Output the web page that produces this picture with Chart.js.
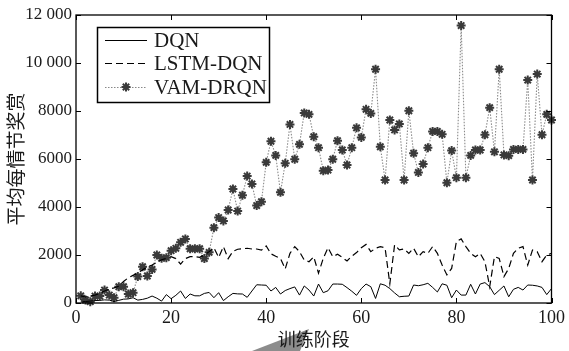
<!DOCTYPE html>
<html><head><meta charset="utf-8">
<script src="https://cdn.jsdelivr.net/npm/chart.js@4"></script>
<style>html,body{margin:0;padding:0;background:#fff}#wrap{width:569px;height:351px}</style>
</head><body><div id="wrap"><canvas id="c" width="569" height="351"></canvas></div>
<script>
const episodes = Array.from({length: 100}, (_, i) => i + 1);
const seriesNames = ['DQN', 'LSTM-DQN', 'VAM-DRQN'];
const dqn = [50,60,80,100,110,130,120,60,110,160, 170,220,120,150,200,290,200,80,350,180,
  320,500,190,375,300,300,400,440,220,430, 100,260,400,380,375,236,500,760,750,740,
  500,650,375,520,600,670,330,710,540,290, 790,430,510,790,790,780,640,490,320,600,
  790,680,190,800,740,600,420,260,280,290, 750,720,760,820,650,460,800,740,220,540,
  330,330,780,375,790,850,680,350,530,710, 260,570,650,540,750,740,710,650,350,600];
const lstmDqn = [300,250,300,330,400,500,580,630,700,900, 1050,1150,1250,1380,1500,1580,1700,1800,1860,1930,
  1850,1620,1850,1930,1930,1900,2000,2140,2300,1900, 2350,1850,2150,2240,2260,2280,2250,2250,2200,2380,
  2050,1950,1860,1420,2070,2350,2140,1790,1720,1930, 1240,1860,2300,1930,2030,1900,1750,1950,2100,2300,
  2440,2140,2280,2350,2300,800,2420,2210,2250,2070, 2280,1930,2140,2070,2350,2070,1580,1170,1440,2560,
  2670,2350,2070,1930,2070,1720,680,1930,1860,1100, 1440,2070,2280,2350,1580,2210,2140,1720,2000,2070];
const vamDrqn = [300,125,55,290,290,540,330,220,680,680, 375,430,1100,1510,1125,1400,2000,1860,1890,2180,
  2280,2530,2670,2260,2260,2260,1850,2110,3140,3560, 3420,3875,4750,3830,4490,5290,4960,4060,4220,5860,
  6740,6150,4610,5820,7440,5990,6610,7920,7860,6930, 6470,5510,5540,5990,6760,6375,5750,6470,7300,6900,
  8070,7900,9740,6510,5125,7625,7210,7460,5125,8010, 6240,5440,5790,6470,7150,7150,7030,5010,6350,5220,
  11560,5220,6150,6375,6375,7010,8140,6300,9740,6170, 6140,6400,6400,6400,9290,5125,9540,7010,7860,7625];
const xTicks = [0, 20, 40, 60, 80, 100];
const yTicks = [0, 2000, 4000, 6000, 8000, 10000, 12000];
const yTickLabels = ['0', '2000', '4000', '6000', '8000', '10 000', '12 000'];
const xTitle = '训练阶段';
const yTitle = '平均每情节奖赏';

const toXY = arr => arr.map((v, i) => ({x: episodes[i], y: v}));
const serif = '"Liberation Serif", "DejaVu Serif", serif';
const cjk = '"Noto Sans CJK SC", sans-serif';
const textColor = '#1a1a1a';

const framePlugin = {
  id: 'frame',
  afterDraw(chart) {
    const ctx = chart.ctx;
    const {left, right, top, bottom} = chart.chartArea;
    const xs = chart.scales.x, ys = chart.scales.y;
    ctx.save();
    ctx.strokeStyle = '#000';
    ctx.lineWidth = 1.3;
    ctx.strokeRect(left, top, right - left, bottom - top);
    ctx.lineWidth = 1;
    ctx.beginPath();
    xTicks.forEach(v => {
      const p = Math.round(xs.getPixelForValue(v)) + 0.5;
      ctx.moveTo(p, bottom); ctx.lineTo(p, bottom - 5);
      ctx.moveTo(p, top); ctx.lineTo(p, top + 5);
    });
    yTicks.forEach(v => {
      const p = Math.round(ys.getPixelForValue(v)) + 0.5;
      ctx.moveTo(left, p); ctx.lineTo(left + 5, p);
      ctx.moveTo(right, p); ctx.lineTo(right - 5, p);
    });
    ctx.stroke();

    // legend
    const bx = 97, by = 27, bw = 172, bh = 75;
    ctx.fillStyle = '#fff';
    ctx.fillRect(bx, by, bw, bh);
    ctx.lineWidth = 1.5;
    ctx.strokeStyle = '#000';
    ctx.strokeRect(bx + 0.5, by + 0.5, bw, bh);
    const rows = [40, 63, 87];
    const styles = [
      {color: '#000', dash: [], width: 1},
      {color: '#000', dash: [7, 4], width: 1.2},
      {color: '#888', dash: [1.5, 1.5], width: 1.2}
    ];
    rows.forEach((y, i) => {
      ctx.beginPath();
      ctx.setLineDash(styles[i].dash);
      ctx.strokeStyle = styles[i].color;
      ctx.lineWidth = styles[i].width;
      ctx.moveTo(105, y + 0.5); ctx.lineTo(147, y + 0.5);
      ctx.stroke();
      ctx.setLineDash([]);
      if (i === 2) {
        ctx.strokeStyle = '#3a3a3a';
        ctx.lineWidth = 2;
        ctx.beginPath();
        const cx = 126, r = 4.5;
        for (let a = 0; a < 4; a++) {
          const ang = a * Math.PI / 4;
          ctx.moveTo(cx - r * Math.cos(ang), y - r * Math.sin(ang));
          ctx.lineTo(cx + r * Math.cos(ang), y + r * Math.sin(ang));
        }
        ctx.stroke();
      }
      ctx.fillStyle = textColor;
      ctx.font = '21px ' + serif;
      ctx.textBaseline = 'middle';
      ctx.textAlign = 'left';
      ctx.fillText(seriesNames[i], 154, y + 1);
    });

    // scan artifact wedge below axis title
    ctx.fillStyle = 'rgba(120,120,120,0.85)';
    ctx.beginPath();
    ctx.moveTo(252, 351); ctx.lineTo(309, 329); ctx.lineTo(300, 351);
    ctx.closePath();
    ctx.globalCompositeOperation = 'destination-over';
    ctx.fill();
    ctx.restore();
  }
};

new Chart(document.getElementById('c'), {
  type: 'line',
  data: {
    datasets: [
      {label: seriesNames[0], data: toXY(dqn), borderColor: '#000', borderWidth: 1, pointRadius: 0, tension: 0},
      {label: seriesNames[1], data: toXY(lstmDqn), borderColor: '#000', borderWidth: 1.2, borderDash: [7, 4], pointRadius: 0, tension: 0},
      {label: seriesNames[2], data: toXY(vamDrqn), borderColor: '#8a8a8a', borderWidth: 1.1, borderDash: [1.5, 1.5],
        pointStyle: 'star', pointRadius: 4.5, pointBorderColor: '#3a3a3a', pointBorderWidth: 2, pointBackgroundColor: '#3a3a3a', tension: 0, clip: false}
    ]
  },
  options: {
    responsive: false,
    animation: false,
    devicePixelRatio: 1,
    layout: {padding: {left: 0, right: 17, top: 15, bottom: 0}},
    plugins: {legend: {display: false}, tooltip: {enabled: false}},
    scales: {
      x: {
        type: 'linear', min: 0, max: 100,
        afterBuildTicks: s => { s.ticks = xTicks.map(v => ({value: v})); },
        afterFit: s => { s.height = 48; },
        grid: {display: false, drawTicks: false},
        border: {display: false},
        ticks: {font: {family: serif, size: 18}, color: textColor, padding: 4, maxRotation: 0, callback: v => String(v)},
        title: {display: true, text: xTitle, font: {family: cjk, size: 18}, color: textColor, padding: {top: 0, bottom: 1}}
      },
      y: {
        type: 'linear', min: 0, max: 12000,
        afterBuildTicks: s => { s.ticks = yTicks.map(v => ({value: v})); },
        afterFit: s => { s.width = 76; },
        grid: {display: false, drawTicks: false},
        border: {display: false},
        ticks: {font: {family: serif, size: 17}, color: textColor, padding: 4,
          callback: v => yTickLabels[yTicks.indexOf(v)]},
        title: {display: true, text: yTitle, font: {family: cjk, size: 19}, color: textColor, padding: {top: 4, bottom: 0}}
      }
    }
  },
  plugins: [framePlugin]
});
</script></body></html>
